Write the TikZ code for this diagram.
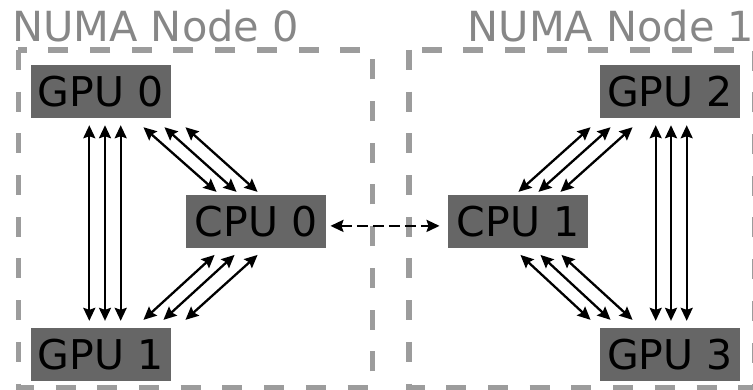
\documentclass[tikz,border=0pt]{standalone}
\usepackage{fontspec}
\setmainfont{DejaVu Sans}
\usetikzlibrary{arrows.meta,calc}
\definecolor{boxgray}{HTML}{666666}
\definecolor{bordergray}{HTML}{9C9C9C}
\definecolor{titlegray}{HTML}{878787}
\begin{document}
\begin{tikzpicture}[x=1pt,y=-1pt,
  unit/.style={fill=boxgray, draw=none, inner sep=0pt, minimum width=140.5pt, minimum height=52.7pt, font=\fontsize{41}{41}\selectfont, text=black},
  numabox/.style={draw=bordergray, line width=5.5pt, dash pattern=on 20pt off 21.7pt},
  numatitle/.style={font=\fontsize{41.5}{41.5}\selectfont, text=titlegray, inner sep=0pt, anchor=base west},
  link/.style={line width=2.3pt, {Stealth[length=13pt,width=12pt,inset=2pt]}-{Stealth[length=13pt,width=12pt,inset=2pt]}},
  qpi/.style={link, line width=2.5pt, dash pattern=on 11pt off 5pt}
]
\useasboundingbox (0,0) rectangle (753,390);

% NUMA domains
\draw[numabox] (18.3,50) rectangle (372.5,388);
\draw[numabox] (409,50) rectangle (754.5,388);
\node[numatitle] (t0) at (12,42) {NUMA Node 0};
\node[numatitle] (t1) at (467.5,42) {NUMA Node 1};

% processors
\node[unit] (g0) at (100.8,91.7) {GPU 0};
\node[unit] (g1) at (100.8,354.4) {GPU 1};
\node[unit] (c0) at (256,221.4) {CPU 0};
\node[unit] (c1) at (518,221.4) {CPU 1};
\node[unit] (g2) at (670,91.7) {GPU 2};
\node[unit] (g3) at (670,354.4) {GPU 3};

% GPU0 <-> GPU1
\foreach \dx in {-11.5,4.2,19.9}
  \draw[link] ([shift={(\dx,7)}]g0.south) -- ([shift={(\dx,-7)}]g1.north);
% GPU2 <-> GPU3
\foreach \dx in {-14.3,1,16.7}
  \draw[link] ([shift={(\dx,7)}]g2.south) -- ([shift={(\dx,-7)}]g3.north);

% GPU0 <-> CPU0
\foreach \a/\b in {-27.8/31,-6.8/51,14.2/72}
  \draw[link] ([shift={(\a,9)}]g0.south east) -- ([shift={(\b,-3)}]c0.north west);
% CPU0 <-> GPU1
\foreach \a/\b in {29/-27.8,49/-7.8,72/14.2}
  \draw[link] ([shift={(\a,7)}]c0.south west) -- ([shift={(\b,-8)}]g1.north east);
% CPU1 <-> GPU2
\foreach \a/\b in {-70/-9,-50/11,-28/33}
  \draw[link] ([shift={(\a,-3)}]c1.north east) -- ([shift={(\b,9)}]g2.south west);
% CPU1 <-> GPU3
\foreach \a/\b in {-68/-9,-48/11,-27/33}
  \draw[link] ([shift={(\a,7)}]c1.south east) -- ([shift={(\b,-8)}]g3.north west);

% inter-socket link
\draw[qpi] ([shift={(4,4.5)}]c0.east) -- ([shift={(-8,4.5)}]c1.west);
\end{tikzpicture}
\end{document}
